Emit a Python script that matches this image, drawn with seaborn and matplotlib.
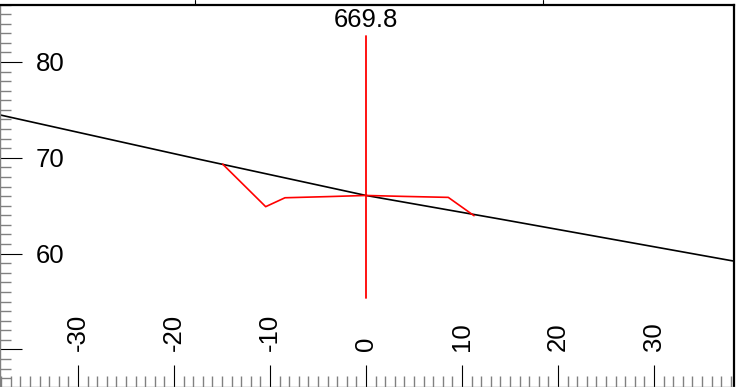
import numpy as np
import pandas as pd
import seaborn as sns
import matplotlib.pyplot as plt
from matplotlib.ticker import MultipleLocator
from matplotlib.lines import Line2D

# values
trend_x = [-38.1, -17.3, 0.0, 14.0, 38.2]
trend_y = [74.47, 69.83, 66.07, 63.6, 59.24]
curve_x = [-14.93, -10.45, -8.44, -4.0, 0.0, 4.0, 8.57, 11.25]
curve_y = [69.34, 64.9, 65.83, 65.95, 66.07, 65.97, 65.87, 63.96]
marker_x = [0.0, 0.0]
marker_y = [55.35, 82.68]
marker_label = "669.8"
xticks = [-30, -20, -10, 0, 10, 20, 30]
yticks = [50, 60, 70, 80]
ylabels = ["", "60", "70", "80"]

sns.set_style("white")
plt.rcParams['font.family'] = ['Liberation Sans', 'DejaVu Sans']

fig = plt.figure(figsize=(7.39, 3.87), dpi=100)
ax = fig.add_axes([0, 0, 733.5 / 739, 382.5 / 387])

trend = pd.DataFrame({'x': trend_x, 'y': trend_y})
curve = pd.DataFrame({'x': curve_x, 'y': curve_y})
marker = pd.DataFrame({'x': marker_x, 'y': marker_y})

sns.lineplot(data=trend, x='x', y='y', ax=ax, color='black', lw=1.2,
             estimator=None, sort=False)
sns.lineplot(data=curve, x='x', y='y', ax=ax, color='red', lw=1.2,
             estimator=None, sort=False)
sns.lineplot(data=marker, x='x', y='y', ax=ax, color='red', lw=1.3,
             estimator=None, sort=False)
ax.text(marker_x[1], marker_y[1] + 0.45, marker_label, ha='center', va='bottom',
        fontsize=18.5, color='black')

ax.set_xlim(-38.125, 38.28)
ax.set_ylim(46.08, 86.0)
ax.set_xlabel('')
ax.set_ylabel('')

ax.set_xticks(xticks)
ax.set_xticklabels([str(v) for v in xticks])
ax.set_yticks(yticks)
ax.set_yticklabels(ylabels)
ax.xaxis.set_minor_locator(MultipleLocator(1))
ax.yaxis.set_minor_locator(MultipleLocator(1))

pad_pt = -36 * 72 / 100
ax.tick_params(which='major', direction='in', length=22 * 0.72, width=0.8,
               color='black', labelcolor='black', labelsize=18.5, pad=pad_pt,
               bottom=True, left=True, top=False, right=False)
ax.tick_params(which='minor', direction='in', length=11 * 0.72, width=1.0,
               color='#808080', bottom=True, left=True, top=False, right=False)
ax.tick_params(axis='x', labelrotation=90)
plt.setp(ax.get_xticklabels(), va='bottom')
plt.setp(ax.get_yticklabels(), ha='left')

for side in ['top', 'right']:
    ax.spines[side].set_color('black')
    ax.spines[side].set_linewidth(1.6)
for side in ['left', 'bottom']:
    ax.spines[side].set_color('#808080')
    ax.spines[side].set_linewidth(1.0)

# bits of the neighbouring panel frame above the plot
for fx in [195 / 739, 543 / 739]:
    fig.add_artist(Line2D([fx, fx], [382.5 / 387, 1.0], color='black', lw=0.8))

fig.savefig('out.png', dpi=100)
